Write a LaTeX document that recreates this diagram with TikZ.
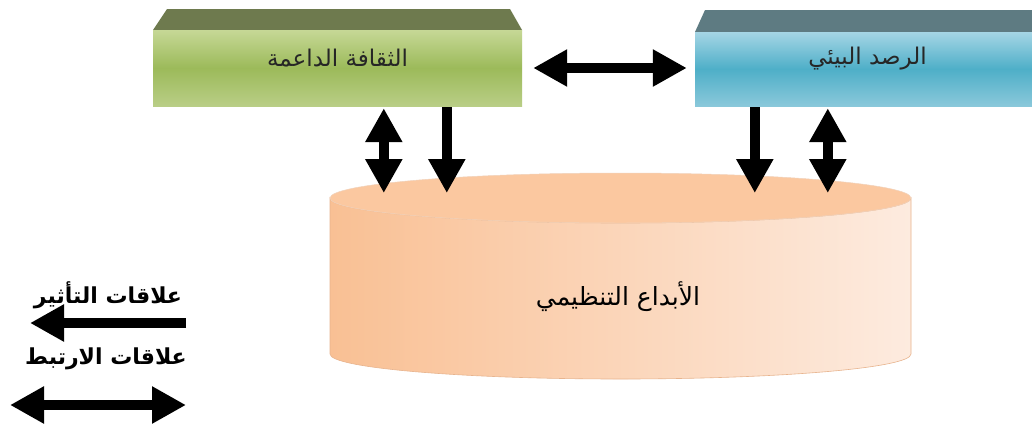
\documentclass[tikz,border=0pt]{standalone}
\usepackage{fontspec}
\usetikzlibrary{arrows.meta,calc}
\newfontfamily\arabicfont[Script=Arabic]{DejaVu Sans}
\TeXXeTstate=1
\definecolor{grtop}{HTML}{C6D896}
\definecolor{grmid}{HTML}{9CBA5A}
\definecolor{grbot}{HTML}{B9CE86}
\definecolor{grbev}{HTML}{6E7A4E}
\definecolor{bltop}{HTML}{A5D5E5}
\definecolor{blmid}{HTML}{4EAFC8}
\definecolor{blbot}{HTML}{8AC8DA}
\definecolor{blbev}{HTML}{5E7B82}
\definecolor{pchdark}{HTML}{F9C094}
\definecolor{pchlight}{HTML}{FDEBDF}
\definecolor{pchtop}{HTML}{FBC8A0}
\definecolor{pchline}{HTML}{E8B48E}
\begin{document}
\begin{tikzpicture}[x=1pt,y=-1pt,
  tipA/.tip={Triangle[length=34pt,width=35pt]},
  dbl/.style={line width=10pt,tipA-tipA},
  one/.style={line width=10pt,-tipA},
  boxface/.style={draw=none,inner sep=0pt,minimum height=76pt},
  boxtext/.style={font=\arabicfont\fontsize{23}{27}\selectfont,text=black!85,inner sep=0pt},
  cyltext/.style={font=\arabicfont\fontsize{25}{29}\selectfont,text=black,inner sep=0pt},
  legtext/.style={font=\arabicfont\bfseries\fontsize{22}{26}\selectfont,text=black,inner sep=0pt}]
\useasboundingbox (0,0) rectangle (1032,426);
\clip (0,0) rectangle (1032,426);
\fill[white] (0,0) rectangle (1032,426);

% green box
\fill[grbev] (153,30) -- (167,9) -- (510,9) -- (522,30) -- cycle;
\node[boxface,minimum width=369pt,top color=grtop,bottom color=grbot,middle color=grmid] (green) at (337.5,68) {};
\node[boxtext] (gt) at ([yshift=10pt]green.center) {\beginR الثقافة الداعمة\endR};

% blue box
\fill[blbev] (695,32) -- (705,10) -- (1045,10) -- (1045,32) -- cycle;
\node[boxface,minimum width=345pt,minimum height=74pt,top color=bltop,bottom color=blbot,middle color=blmid] (blue) at (867.5,69) {};
\node[boxtext] (bt) at ([yshift=10pt]blue.center) {\beginR الرصد البيئي\endR};

% cylinder
\path[left color=pchdark,right color=pchlight,draw=pchline,line width=0.6pt]
  (330,198) -- (330,354)
  arc[start angle=180,end angle=360,x radius=290.5pt,y radius=25pt]
  -- (911,198)
  arc[start angle=0,end angle=-180,x radius=290.5pt,y radius=25pt] -- cycle;
\fill[pchtop] (620.5,198) ellipse[x radius=290.5pt,y radius=25pt];
\draw[pchline!60,line width=0.5pt] (620.5,198) ellipse[x radius=290.5pt,y radius=25pt];
\node[cyltext] (cyl) at (618,297) {\beginR الأبداع التنظيمي\endR};
\coordinate (ctop) at (620.5,193);

% connectors
\draw[dbl] ([xshift=11pt]green.east) -- ([xshift=-8pt,yshift=1pt]blue.west);
\draw[dbl] ([xshift=231pt,yshift=-2pt]green.south west) -- ([xshift=231pt]green.south west |- ctop);
\draw[one] ([xshift=294pt,yshift=-1pt]green.south west) -- ([xshift=294pt]green.south west |- ctop);
\draw[one] ([xshift=60pt,yshift=-1pt]blue.south west) -- ([xshift=60pt]blue.south west |- ctop);
\draw[dbl] ([xshift=133pt,yshift=-2pt]blue.south west) -- ([xshift=133pt]blue.south west |- ctop);

% legend
\node[legtext] (l1) at (108,295) {\beginR علاقات التأثير\endR};
\node[legtext] (l2) at (106,359) {\beginR علاقات الارتبط\endR};
\coordinate (l1a) at (186,323);
\coordinate (l1b) at (30,323);
\coordinate (l2a) at (10,405);
\coordinate (l2b) at (186,405);
\draw[one] (l1a) -- (l1b);
\draw[dbl] (l2a) -- (l2b);
\end{tikzpicture}
\end{document}
